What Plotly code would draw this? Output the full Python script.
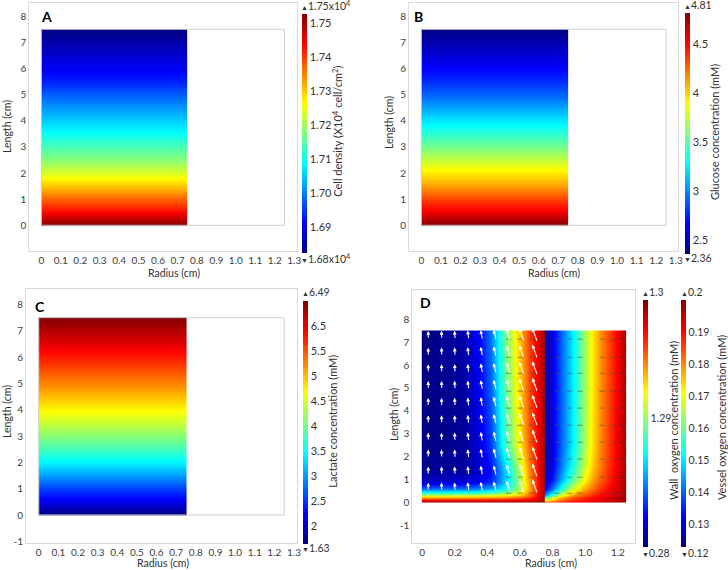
import plotly.graph_objects as go

FONT = "Lato"
JET = [[0.0, 'rgb(0,0,128)'], [0.125, 'rgb(0,0,255)'], [0.375, 'rgb(0,255,255)'],
       [0.625, 'rgb(255,255,0)'], [0.875, 'rgb(255,0,0)'], [1.0, 'rgb(128,0,0)']]

# ---------------- geometry (cm) ----------------
VESSEL_RADIUS = 0.75
OUTER_RADIUS = 1.25
TUBE_LENGTH = 7.5

# ---------------- panels A-C: axial profiles ----------------
PROFILE_R = [0.0, 0.002, 0.748, 0.75]
PROFILE_Z = [0, 0.02, 0.5, 1.0, 1.5, 2.0, 2.5, 3.0, 3.5, 4.0, 4.5, 5.0, 5.5, 6.0, 6.5, 7.0, 7.48, 7.5]
CELL_DENSITY = [1.7527, 1.7523, 1.7436, 1.7372, 1.7302, 1.7239, 1.7183, 1.7140, 1.7095, 1.7056,
                1.7017, 1.6979, 1.6936, 1.6905, 1.6880, 1.6852, 1.6828, 1.6824]
GLUCOSE = [4.810, 4.798, 4.541, 4.345, 4.124, 3.940, 3.757, 3.561, 3.389, 3.230,
           3.071, 2.911, 2.777, 2.666, 2.568, 2.470, 2.372, 2.360]
LACTATE = [1.630, 1.649, 2.165, 2.553, 2.991, 3.404, 3.768, 4.084, 4.400, 4.692,
           4.983, 5.251, 5.494, 5.761, 6.004, 6.247, 6.471, 6.490]

# ---------------- panel D: oxygen fields ----------------
VESSEL_R = [0.0, 0.005, 0.25, 0.35, 0.42, 0.48, 0.54, 0.6, 0.66, 0.71, 0.745, 0.75]
VESSEL_Z = [0, 0.02, 0.12, 0.25, 0.4, 0.6, 0.9, 1.4, 2.5, 5.0, 7.48, 7.5]
VESSEL_O2 = [
    [0.1969, 0.1969, 0.1969, 0.1969, 0.1969, 0.1969, 0.1969, 0.1969, 0.1969, 0.1977, 0.1977, 0.1977],
    [0.1962, 0.1962, 0.1962, 0.1962, 0.1962, 0.1962, 0.1962, 0.1962, 0.1969, 0.1969, 0.1977, 0.1977],
    [0.1877, 0.1877, 0.1877, 0.1877, 0.1885, 0.1885, 0.1892, 0.1900, 0.1915, 0.1938, 0.1969, 0.1977],
    [0.1738, 0.1738, 0.1738, 0.1746, 0.1754, 0.1761, 0.1777, 0.1800, 0.1846, 0.1908, 0.1969, 0.1977],
    [0.1577, 0.1577, 0.1584, 0.1592, 0.1607, 0.1630, 0.1661, 0.1715, 0.1808, 0.1900, 0.1969, 0.1977],
    [0.1399, 0.1399, 0.1407, 0.1423, 0.1453, 0.1500, 0.1553, 0.1654, 0.1784, 0.1892, 0.1969, 0.1977],
    [0.1284, 0.1284, 0.1292, 0.1315, 0.1353, 0.1438, 0.1523, 0.1646, 0.1792, 0.1892, 0.1969, 0.1977],
    [0.1245, 0.1245, 0.1253, 0.1284, 0.1330, 0.1438, 0.1530, 0.1661, 0.1808, 0.1900, 0.1969, 0.1977],
    [0.1230, 0.1230, 0.1245, 0.1299, 0.1369, 0.1507, 0.1607, 0.1723, 0.1838, 0.1908, 0.1969, 0.1977],
    [0.1230, 0.1230, 0.1253, 0.1315, 0.1399, 0.1538, 0.1638, 0.1746, 0.1854, 0.1915, 0.1969, 0.1977],
    [0.1230, 0.1230, 0.1261, 0.1322, 0.1415, 0.1553, 0.1654, 0.1761, 0.1861, 0.1923, 0.1969, 0.1977],
    [0.1230, 0.1230, 0.1261, 0.1322, 0.1415, 0.1553, 0.1654, 0.1761, 0.1861, 0.1923, 0.1969, 0.1977],
]
WALL_R = [0.75, 0.755, 0.8, 0.85, 0.9, 0.95, 1.0, 1.05, 1.1, 1.15, 1.2, 1.245, 1.25]
WALL_Z = [0, 0.02, 0.1, 0.2, 0.35, 0.6, 1.0, 1.6, 2.5, 5.0, 7.48, 7.5]
WALL_O2 = [
    [1.045, 1.055, 1.096, 1.127, 1.157, 1.178, 1.198, 1.208, 1.229, 1.239, 1.249, 1.259, 1.269],
    [1.045, 1.055, 1.096, 1.127, 1.157, 1.178, 1.198, 1.208, 1.229, 1.239, 1.249, 1.259, 1.269],
    [0.892, 0.923, 1.014, 1.076, 1.116, 1.147, 1.167, 1.188, 1.208, 1.229, 1.249, 1.259, 1.269],
    [0.688, 0.739, 0.892, 0.994, 1.065, 1.106, 1.137, 1.167, 1.198, 1.218, 1.239, 1.259, 1.269],
    [0.484, 0.535, 0.708, 0.861, 0.963, 1.035, 1.086, 1.127, 1.167, 1.198, 1.229, 1.259, 1.269],
    [0.382, 0.402, 0.535, 0.688, 0.821, 0.923, 1.004, 1.065, 1.127, 1.178, 1.218, 1.259, 1.269],
    [0.331, 0.341, 0.443, 0.576, 0.698, 0.810, 0.923, 1.014, 1.086, 1.147, 1.208, 1.259, 1.269],
    [0.311, 0.321, 0.402, 0.525, 0.637, 0.749, 0.872, 0.974, 1.055, 1.137, 1.198, 1.259, 1.269],
    [0.300, 0.311, 0.392, 0.504, 0.606, 0.719, 0.841, 0.953, 1.045, 1.127, 1.198, 1.259, 1.269],
    [0.300, 0.311, 0.392, 0.504, 0.606, 0.708, 0.831, 0.943, 1.035, 1.116, 1.188, 1.259, 1.269],
    [0.300, 0.311, 0.392, 0.504, 0.606, 0.708, 0.831, 0.943, 1.035, 1.116, 1.188, 1.259, 1.269],
    [0.300, 0.311, 0.392, 0.504, 0.606, 0.708, 0.831, 0.943, 1.035, 1.116, 1.188, 1.259, 1.269],
]

# velocity arrows (vessel) and wall flux marks
ARROW_R = [0.037, 0.119, 0.2, 0.282, 0.364, 0.446, 0.528, 0.61, 0.691]
ARROW_Z = [0.68, 1.38, 2.12, 2.86, 3.62, 4.38, 5.12, 5.85, 6.58, 7.31]
ARROW_U = [0.0, -0.002, -0.004, -0.008, -0.012, -0.017, -0.022, -0.027, -0.032]
ARROW_V = [0.36, 0.37, 0.38, 0.40, 0.43, 0.47, 0.52, 0.57, 0.62]
DASH_R = [0.53, 0.60, 0.67, 0.826, 0.903, 0.968, 1.103, 1.168, 1.232]
DASH_Z = [0.40, 1.10, 1.89, 2.63, 3.37, 4.12, 4.86, 5.64, 6.34, 7.13]

# ---------------- ticks ----------------
R_TICKS_ABC = [0, 0.1, 0.2, 0.3, 0.4, 0.5, 0.6, 0.7, 0.8, 0.9, 1.0, 1.1, 1.2, 1.3]
R_TEXT_ABC = ["0", "0.1", "0.2", "0.3", "0.4", "0.5", "0.6", "0.7", "0.8", "0.9", "1.0", "1.1", "1.2", "1.3"]
R_TICKS_D = [0, 0.2, 0.4, 0.6, 0.8, 1.0, 1.2]
R_TEXT_D = ["0", "0.2", "0.4", "0.6", "0.8", "1.0", "1.2"]
Z_TICKS = [-1, 0, 1, 2, 3, 4, 5, 6, 7, 8]
Z_TEXT = ["-1", "0", "1", "2", "3", "4", "5", "6", "7", "8"]

CD_TICKS = [1.69, 1.70, 1.71, 1.72, 1.73, 1.74, 1.75]
CD_TEXT = ["1.69", "1.70", "1.71", "1.72", "1.73", "1.74", "1.75"]
GL_TICKS = [2.5, 3, 3.5, 4, 4.5]
GL_TEXT = ["2.5", "3", "3.5", "4", "4.5"]
LA_TICKS = [2, 2.5, 3, 3.5, 4, 4.5, 5, 5.5, 6]
LA_TEXT = ["2", "2.5", "3", "3.5", "4", "4.5", "5", "5.5", "6.5"]
WO_TICKS = [0.81]
WO_TEXT = ["1.29"]
VO_TICKS = [0.13, 0.14, 0.15, 0.16, 0.17, 0.18, 0.19]
VO_TEXT = ["0.13", "0.14", "0.15", "0.16", "0.17", "0.18", "0.19"]

TXT = '#333333'


def cbar(x, y, length, tickvals, ticktext, thick=5, fsize=11):
    return dict(x=x, xanchor='left', y=y, yanchor='middle', len=length, lenmode='fraction',
                thickness=thick, thicknessmode='pixels', outlinewidth=0, xpad=0, ypad=0,
                ticks='', tickvals=tickvals, ticktext=ticktext,
                tickfont=dict(family=FONT, size=fsize, color=TXT))


def band(profile):
    return [[v] * len(PROFILE_R) for v in profile]


fig = go.Figure()
fig.add_trace(go.Heatmap(x=PROFILE_R, y=PROFILE_Z, z=band(CELL_DENSITY), zsmooth='best',
                         colorscale=JET, zmin=1.6824, zmax=1.7527, xaxis='x', yaxis='y',
                         colorbar=cbar(302 / 728, 0.7655, 0.4198, CD_TICKS, CD_TEXT)))
fig.add_trace(go.Heatmap(x=PROFILE_R, y=PROFILE_Z, z=band(GLUCOSE), zsmooth='best',
                         colorscale=JET, zmin=2.36, zmax=4.81, xaxis='x2', yaxis='y2',
                         colorbar=cbar(684.5 / 728, 0.7655, 0.4223, GL_TICKS, GL_TEXT, 4.5)))
fig.add_trace(go.Heatmap(x=PROFILE_R, y=PROFILE_Z, z=band(LACTATE), zsmooth='best',
                         colorscale=JET, zmin=1.63, zmax=6.49, xaxis='x3', yaxis='y3',
                         colorbar=cbar(302.7 / 728, 0.2585, 0.4268, LA_TICKS, LA_TEXT)))
fig.add_trace(go.Heatmap(x=WALL_R, y=WALL_Z, z=WALL_O2, zsmooth='best',
                         colorscale=JET, zmin=0.28, zmax=1.3, xaxis='x4', yaxis='y4',
                         colorbar=cbar(643.3 / 728, 0.2573, 0.4328, WO_TICKS, WO_TEXT, 4.5, 10.5)))
fig.add_trace(go.Heatmap(x=VESSEL_R, y=VESSEL_Z, z=VESSEL_O2, zsmooth='best',
                         colorscale=JET, zmin=0.1229, zmax=0.2, xaxis='x4', yaxis='y4',
                         colorbar=cbar(681 / 728, 0.2573, 0.4328, VO_TICKS, VO_TEXT, 4.5, 10.5)))

# wall flux marks
dx, dy = [], []
for z in DASH_Z:
    for r in DASH_R:
        dx.append(r)
        dy.append(z)
fig.add_trace(go.Scatter(x=dx, y=dy, mode='markers', xaxis='x4', yaxis='y4', hoverinfo='skip',
                         marker=dict(symbol='line-ew', size=4,
                                     line=dict(width=1, color='rgba(80,80,80,0.6)')),
                         showlegend=False))

annotations = []
# velocity arrows
for z in ARROW_Z:
    for r, u, v in zip(ARROW_R, ARROW_U, ARROW_V):
        annotations.append(dict(x=r + u / 2, y=z + v / 2, ax=r - u / 2, ay=z - v / 2,
                                xref='x4', yref='y4', axref='x4', ayref='y4', text='',
                                showarrow=True, arrowhead=2, arrowsize=0.7, arrowwidth=1.1,
                                arrowcolor='white', standoff=0, startstandoff=0))

axis = dict(showline=True, mirror=True, linecolor='#d9d9d9', linewidth=1, showgrid=False,
            zeroline=False, ticks='', tickfont=dict(family=FONT, size=10, color='#404040'))

layout = dict(
    width=728, height=570, margin=dict(l=0, r=0, t=0, b=0, autoexpand=False),
    paper_bgcolor='white', plot_bgcolor='white', showlegend=False,
    font=dict(family=FONT, color=TXT),
    xaxis=dict(axis, domain=[0.0402, 0.4076], range=[-0.062, 1.313], tickvals=R_TICKS_ABC, ticktext=R_TEXT_ABC, anchor='y'),
    yaxis=dict(axis, domain=[0.5602, 0.9942], range=[-0.972, 8.495], tickvals=Z_TICKS, ticktext=Z_TEXT, anchor='x'),
    xaxis2=dict(axis, domain=[0.5618, 0.9313], range=[-0.063, 1.311], tickvals=R_TICKS_ABC, ticktext=R_TEXT_ABC, anchor='y2'),
    yaxis2=dict(axis, domain=[0.5602, 0.9942], range=[-0.972, 8.495], tickvals=Z_TICKS, ticktext=Z_TEXT, anchor='x2'),
    xaxis3=dict(axis, domain=[0.0357, 0.4076], range=[-0.065, 1.314], tickvals=R_TICKS_ABC, ticktext=R_TEXT_ABC, anchor='y3'),
    yaxis3=dict(axis, domain=[0.0468, 0.4930], range=[-1.076, 8.59], tickvals=Z_TICKS, ticktext=Z_TEXT, anchor='x3'),
    xaxis4=dict(axis, domain=[0.5663, 0.8723], range=[-0.061, 1.305], tickvals=R_TICKS_D, ticktext=R_TEXT_D, anchor='y4'),
    yaxis4=dict(axis, domain=[0.0468, 0.4912], range=[-1.79, 9.28], tickvals=Z_TICKS, ticktext=Z_TEXT, anchor='x4'),
)

shapes = []
for xr, yr in [('x', 'y'), ('x2', 'y2'), ('x3', 'y3')]:
    shapes.append(dict(type='rect', xref=xr, yref=yr, x0=0, x1=OUTER_RADIUS, y0=0, y1=TUBE_LENGTH,
                       line=dict(color='#cfcfcf', width=1), layer='above'))
layout['shapes'] = shapes


def txt(x, y, text, size=10.5, angle=0, bold=False, xanchor='center'):
    return dict(x=x / 728, y=1 - y / 570, xref='paper', yref='paper', text=('<b>%s</b>' % text) if bold else text,
                showarrow=False, textangle=angle, xanchor=xanchor, yanchor='middle',
                font=dict(family=FONT, size=size, color=TXT if not bold else 'black'))


TRI_UP = "<span style='font-size:7px'>▲</span>"
TRI_DN = "<span style='font-size:7px'>▼</span>"

annotations += [
    txt(46, 16.5, "A", 14, bold=True), txt(418.5, 16.5, "B", 14, bold=True),
    txt(39.7, 306.7, "C", 14, bold=True), txt(425, 302, "D", 14, bold=True),
    txt(174, 272.5, "Radius (cm)"), txt(7, 127, "Length (cm)", angle=-90),
    txt(554, 272.5, "Radius (cm)"), txt(389, 123, "Length (cm)", angle=-90),
    txt(163, 562.5, "Radius (cm)"), txt(7, 412, "Length (cm)", angle=-90),
    txt(551, 562.5, "Radius (cm)"), txt(394, 415, "Length (cm)", angle=-90),
    # colour bar titles
    txt(336.7, 131, "Cell density (X10<sup>4</sup> cell/cm<sup>2</sup>)", 11, angle=-90),
    txt(714, 132, "Glucose concentration (mM)", 11, angle=-90),
    txt(333, 421.7, "Lactate concentration (mM)", 11, angle=-90),
    txt(673, 421, "Wall  oxygen concentration (mM)", 11, angle=-90),
    txt(721.5, 417.5, "Vessel oxygen concentration (mM)", 11, angle=-90),
    # colour bar range marks
    txt(299, 5, TRI_UP + "1.75x10<sup>4</sup>", 10.5, xanchor='left'),
    txt(299, 258.3, TRI_DN + "1.68x10<sup>4</sup>", 10.5, xanchor='left'),
    txt(681.5, 5, TRI_UP + "4.81", 10.5, xanchor='left'),
    txt(681.5, 258.3, TRI_DN + "2.36", 10.5, xanchor='left'),
    txt(299.5, 291.7, TRI_UP + "6.49", 10.5, xanchor='left'),
    txt(299.5, 548.3, TRI_DN + "1.63", 10.5, xanchor='left'),
    txt(640, 291.7, TRI_UP + "1.3", 10.5, xanchor='left'),
    txt(640, 553.3, TRI_DN + "0.28", 10.5, xanchor='left'),
    txt(678.5, 291.7, TRI_UP + "0.2", 10.5, xanchor='left'),
    txt(678.5, 553.3, TRI_DN + "0.12", 10.5, xanchor='left'),
]
layout['annotations'] = annotations
fig.update_layout(layout)
fig.write_html("out.html", config={'displayModeBar': False},
               post_script="document.body.style.margin='0';document.body.style.overflow='hidden';")
